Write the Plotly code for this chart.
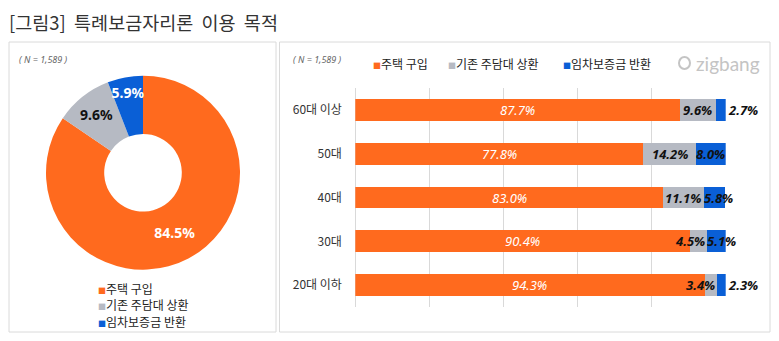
import plotly.graph_objects as go

# ---- data ----
purposes = ["주택 구입", "기존 주담대 상환", "임차보증금 반환"]
overall = [84.5, 9.6, 5.9]
ages = ["60대 이상", "50대", "40대", "30대", "20대 이하"]
buy = [87.7, 77.8, 83.0, 90.4, 94.3]
refinance = [9.6, 14.2, 11.1, 4.5, 3.4]
deposit = [2.7, 8.0, 5.8, 5.1, 2.3]
colors = ["#FF6A1E", "#B6BAC3", "#0A5FD6"]
title_text = "[그림3]&#160; 특례보금자리론&#160; 이용&#160; 목적"
n_text = "( N = 1,589 )"

W, H = 779, 341
def px(x):
    return x / W
def py(y):
    return 1 - y / H

KFONT = "Noto Sans CJK KR, Noto Sans, sans-serif"
NFONT = "Noto Sans, DejaVu Sans, sans-serif"

fig = go.Figure()

# donut
cx, cy, r = 143, 172.7, 97
fig.add_trace(go.Pie(
    values=overall, labels=purposes, hole=0.4, sort=False,
    direction="clockwise", rotation=0,
    marker=dict(colors=colors, line=dict(color="white", width=0)),
    texttemplate="<b>%{value:.1f}%</b>", textposition="inside",
    insidetextorientation="horizontal",
    textfont=dict(family=NFONT, size=14, color=["white", "#111111", "white"]),
    showlegend=False, hoverinfo="skip",
    domain=dict(x=[px(cx - r), px(cx + r)], y=[py(cy + r), py(cy - r)]),
))

# stacked bars
series = [buy, refinance, deposit]
for name, vals, col in zip(purposes, series, colors):
    fig.add_trace(go.Bar(
        y=ages, x=vals, name=name, orientation="h", width=0.5,
        marker=dict(color=col, line=dict(width=0)),
        showlegend=False, hoverinfo="skip", xaxis="x", yaxis="y",
    ))

annotations = []
# bar labels
for i, age in enumerate(ages):
    start = 0
    for k, vals in enumerate(series):
        v = vals[i]
        end = start + v
        label = f"{v:.1f}%"
        if k == 0:
            xa, xpos, txt, fc = "center", (start + end) / 2, f"<i>{label}</i>", "white"
        elif v >= 6:
            xa, xpos, txt, fc = "center", (start + end) / 2, f"<b><i>{label}</i></b>", "#111111"
        elif k == 1:
            xa, xpos, txt, fc = "right", end, f"<b><i>{label}</i></b>", "#111111"
        elif v >= 4:
            xa, xpos, txt, fc = "left", start - 0.5, f"<b><i>{label}</i></b>", "#111111"
        else:
            xa, xpos, txt, fc = "left", end, f"<b><i>{label}</i></b>", "#111111"
        annotations.append(dict(
            x=xpos, y=age, xref="x", yref="y", text=txt, showarrow=False,
            xanchor=xa, yanchor="middle",
            font=dict(family=NFONT, size=13, color=fc),
        ))
        start = end

# title
annotations.append(dict(x=px(7), y=py(22), xref="paper", yref="paper",
                        text=title_text, showarrow=False, xanchor="left", yanchor="middle",
                        font=dict(family=KFONT, size=18.5, color="#333333")))
# N labels
for xn in (17, 291):
    annotations.append(dict(x=px(xn), y=py(59), xref="paper", yref="paper",
                            text=f"<i>{n_text}</i>", showarrow=False, xanchor="left",
                            yanchor="middle", font=dict(family=NFONT, size=9, color="#666666")))

# pie legend (bottom-left)
for j, (name, col) in enumerate(zip(purposes, colors)):
    annotations.append(dict(
        x=px(96), y=py(288 + 16.5 * j), xref="paper", yref="paper",
        text=f'<span style="color:{col};font-size:8px">■</span>{name}',
        showarrow=False, xanchor="left", yanchor="middle",
        font=dict(family=KFONT, size=12, color="#222222")))

# bar legend (top)
leg_x = [371, 446, 561]
for name, col, lx in zip(purposes, colors, leg_x):
    annotations.append(dict(
        x=px(lx), y=py(63), xref="paper", yref="paper",
        text=f'<span style="color:{col};font-size:8px">■</span>{name}',
        showarrow=False, xanchor="left", yanchor="middle",
        font=dict(family=KFONT, size=12, color="#222222")))

# zigbang logo text
annotations.append(dict(x=px(694), y=py(63), xref="paper", yref="paper",
                        text="zigbang", showarrow=False, xanchor="left", yanchor="middle",
                        font=dict(family="Lato, Noto Sans, sans-serif", size=19, color="#C4C4C4")))

shapes = [
    dict(type="rect", xref="paper", yref="paper", x0=px(9), x1=px(276), y0=py(332), y1=py(42),
         line=dict(color="#DADADA", width=1), fillcolor="rgba(0,0,0,0)", layer="below"),
    dict(type="rect", xref="paper", yref="paper", x0=px(279.5), x1=px(770), y0=py(332), y1=py(42),
         line=dict(color="#DADADA", width=1), fillcolor="rgba(0,0,0,0)", layer="below"),
    dict(type="circle", xref="paper", yref="paper", x0=px(679), x1=px(690), y0=py(69), y1=py(57),
         line=dict(color="#C4C4C4", width=2)),
]

fig.update_layout(
    width=W, height=H, margin=dict(l=0, r=0, t=0, b=0),
    paper_bgcolor="white", plot_bgcolor="white",
    barmode="stack", bargap=0.5,
    uniformtext=dict(minsize=14, mode="show"),
    xaxis=dict(domain=[px(355.3), px(725.7)], range=[0, 100], dtick=20,
               showgrid=True, gridcolor="#D9D9D9", gridwidth=1,
               zeroline=True, zerolinecolor="#D9D9D9", zerolinewidth=1,
               showticklabels=False, ticks="", fixedrange=True),
    yaxis=dict(domain=[py(307), py(88)], categoryorder="array", categoryarray=ages,
               autorange="reversed", showgrid=False, zeroline=False,
               ticks="outside", ticklen=10, tickcolor="rgba(0,0,0,0)",
               tickfont=dict(family=KFONT, size=12, color="#333333")),
    annotations=annotations, shapes=shapes, showlegend=False,
)

fig.write_html("out.html")
